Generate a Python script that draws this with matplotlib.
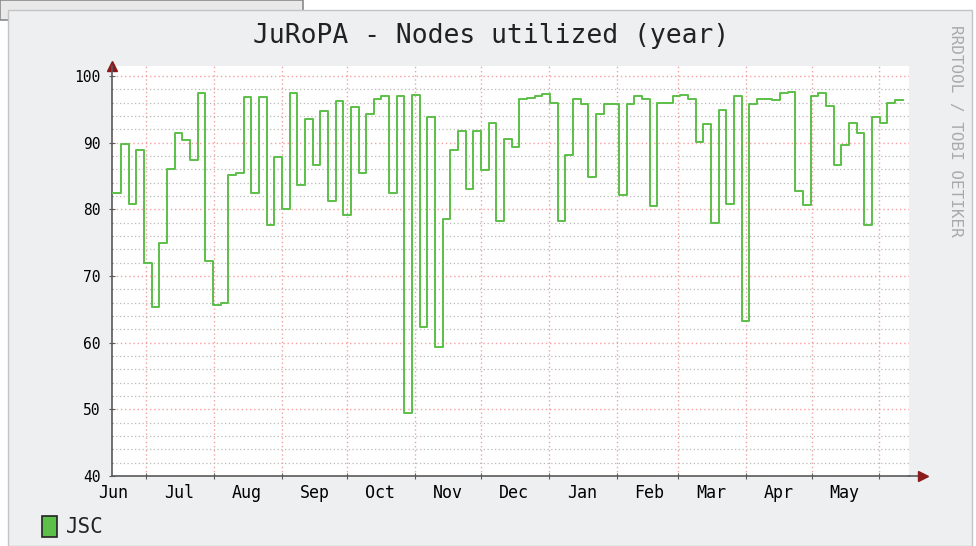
import numpy as np
import pandas as pd
import matplotlib
matplotlib.use("Agg")
import matplotlib.pyplot as plt
import matplotlib.dates as mdates
from matplotlib.patches import Rectangle

# Nodes utilized (%), one value per 3.5-day consolidation step
util = [82.5, 89.8, 80.8, 88.9, 72.0, 65.3, 75.0, 86.1, 91.5, 90.4, 87.4, 97.5,
        72.2, 65.6, 66.0, 85.2, 85.5,
        96.9, 82.5, 96.9, 77.7, 87.9, 80.1, 97.5, 83.7, 93.6, 86.7, 94.8, 81.3,
        96.3, 79.2, 95.4, 85.5, 94.3, 96.5,
        97.0, 82.5, 97.0, 49.4, 97.2, 62.4, 93.9, 59.4, 78.6, 88.9, 91.8, 83.1,
        91.8, 85.9, 93.0, 78.3, 90.6,
        89.4, 96.6, 96.7, 97.0, 97.3, 96.0, 78.2, 88.2, 96.5, 95.8, 84.9, 94.3,
        95.8, 95.8, 82.1, 95.8, 97.0, 96.6,
        80.5, 96.0, 96.0, 97.0, 97.2, 96.6, 90.1, 92.8, 78.0, 94.9, 80.8, 97.0,
        63.3, 95.8, 96.6, 96.6, 96.4,
        97.4, 97.6, 82.8, 80.7, 97.0, 97.5, 95.5, 86.7, 89.7, 93.0, 91.5, 77.6,
        93.9, 93.0, 96.0, 96.4]

t_start = pd.Timestamp("2010-06-15 12:00")
t_end = pd.Timestamp("2011-06-14 12:00")
t0 = pd.Timestamp("2010-06-16 02:00")
times = pd.date_range(t0, periods=len(util) + 1, freq="84h")

plt.rcParams["font.family"] = ["DejaVu Sans Mono"]

W, H = 976, 546
fig = plt.figure(figsize=(W / 100, H / 100), dpi=100, facecolor="white")

# window bits behind the graph
fig.add_artist(Rectangle((0, 1 - 20 / H), 303 / W, 20 / H, transform=fig.transFigure,
                         facecolor="#e9e9e9", edgecolor="#8a8a8a", lw=1.2, zorder=0))
# graph canvas
fig.add_artist(Rectangle((8 / W, 0), 964 / W, 1 - 10 / H, transform=fig.transFigure,
                         facecolor="#eeeff1", edgecolor="#c4c4c4", lw=1.0, zorder=0))

ax = fig.add_axes([112 / W, 70 / H, 797 / W, 410 / H])
ax.set_facecolor("white")
ax.step(times, util + [util[-1]], where="post", color="#5cbf47", lw=1.4, zorder=3)

ax.set_xlim(t_start, t_end)
ax.set_ylim(40, 101.5)

# grid: red dotted majors, grey dotted minors
ax.set_yticks(np.arange(40, 101, 10))
ax.set_yticks(np.arange(40, 101, 2), minor=True)
ax.xaxis.set_major_locator(mdates.MonthLocator())
ax.xaxis.set_major_formatter(plt.NullFormatter())
ax.xaxis.set_minor_locator(mdates.MonthLocator(bymonthday=16))
ax.xaxis.set_minor_formatter(mdates.DateFormatter("%b"))
ax.grid(axis="y", which="minor", color="#b8b8b8", ls=(0, (1, 2)), lw=0.9)
ax.grid(axis="y", which="major", color="#f4a0a0", ls=(0, (1, 2)), lw=1.0)
ax.grid(axis="x", which="major", color="#f4a0a0", ls=(0, (1, 2)), lw=1.0)

for s in ["top", "right"]:
    ax.spines[s].set_visible(False)
for s in ["left", "bottom"]:
    ax.spines[s].set_color("#5a5a5a")
    ax.spines[s].set_linewidth(1.2)

ax.tick_params(axis="y", which="major", labelsize=10.5, length=4, direction="inout",
               color="#5a5a5a", pad=6)
ax.tick_params(axis="y", which="minor", length=2, direction="inout", color="#909090")
ax.tick_params(axis="x", which="major", length=4, direction="inout", color="#5a5a5a")
ax.tick_params(axis="x", which="minor", length=0, labelsize=12, pad=6)

# axis arrows
ax.plot([1.0, 1.012], [0, 0], transform=ax.transAxes, color="#5a5a5a", lw=1.2, clip_on=False)
ax.plot([1.018], [0], transform=ax.transAxes, marker=">", color="#8b1a1a", ms=7,
        clip_on=False)
ax.plot([0], [1.0], transform=ax.transAxes, marker="^", color="#8b1a1a", ms=7,
        clip_on=False)

fig.text(491 / W, 1 - 36 / H, "JuRoPA - Nodes utilized (year)", ha="center", va="center",
         fontsize=19, color="#222222")
fig.text(956 / W, 1 - 131 / H, "RRDTOOL / TOBI OETIKER", rotation=270, ha="center",
         va="center", fontsize=11.5, color="#aaaaaa")

# legend
fig.add_artist(Rectangle((42 / W, 1 - 537 / H), 15 / W, 21 / H, transform=fig.transFigure,
                         facecolor="#5cbf47", edgecolor="#222222", lw=1.2))
fig.text(66 / W, 1 - 527 / H, "JSC", ha="left", va="center", fontsize=15, color="#222222")

fig.savefig("out.png", dpi=100, facecolor=fig.get_facecolor())
